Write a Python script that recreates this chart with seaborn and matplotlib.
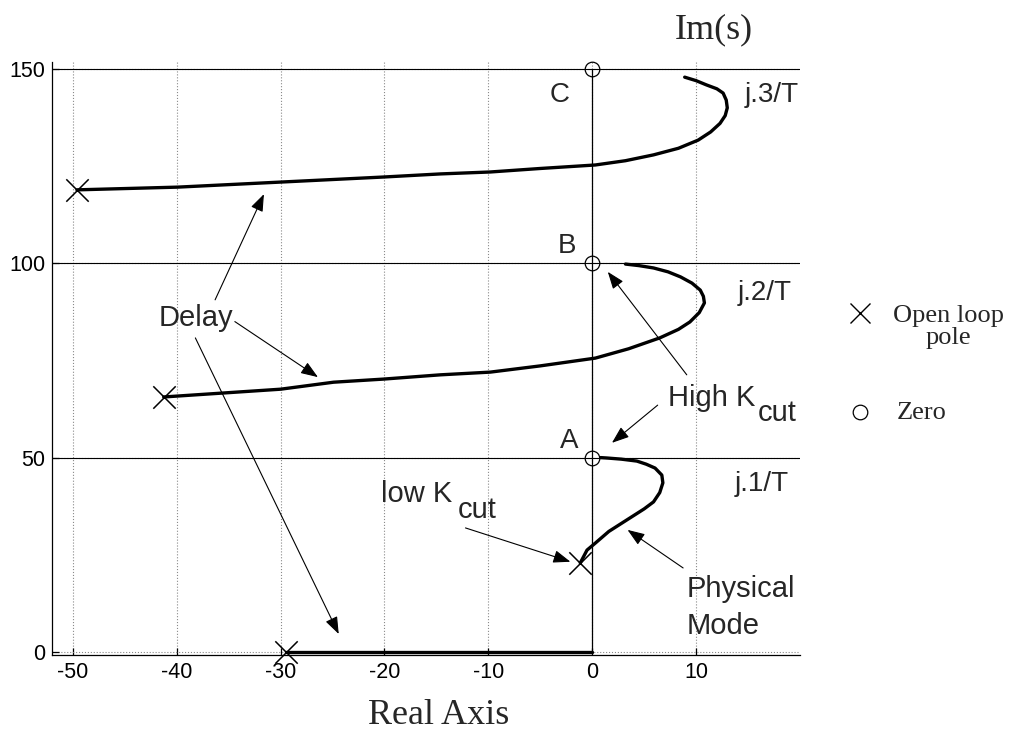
import numpy as np
import pandas as pd
import matplotlib
matplotlib.use("Agg")
import matplotlib.pyplot as plt
import seaborn as sns

# Root-locus branches (real part, imaginary part)
real_axis_x = [-29.5, 0.0]
real_axis_y = [0.0, 0.0]

physical_x = [-1.15, -0.5, 0.3, 1.6, 3.65, 5.0, 5.9, 6.5, 6.8, 6.7, 6.05, 5.2, 4.3, 2.8, 1.4, 0.8]
physical_y = [22.9, 26.2, 28.0, 31.0, 34.5, 36.8, 38.6, 41.0, 43.5, 45.5, 47.3, 48.3, 49.1, 49.6, 49.9, 50.0]

branch2_x = [-41.25, -30.0, -24.9, -20.1, -14.6, -9.8, -5.0, 0.3, 3.5, 6.5, 8.3, 9.4, 10.3, 10.8, 10.7, 10.4, 9.6, 8.5, 7.3, 5.9, 4.5, 3.2]
branch2_y = [65.6, 67.6, 69.4, 70.2, 71.3, 72.0, 73.6, 75.6, 78.0, 80.8, 83.0, 84.9, 87.3, 89.8, 91.5, 93.1, 94.9, 96.5, 97.8, 98.8, 99.4, 99.8]

branch3_x = [-49.6, -39.9, -30.0, -20.1, -14.6, -9.8, -5.0, 0.3, 3.2, 5.9, 8.3, 10.2, 11.4, 12.3, 12.8, 13.0, 12.9, 12.6, 12.0, 11.0, 10.0, 8.9]
branch3_y = [118.9, 119.6, 120.9, 122.2, 123.0, 123.5, 124.4, 125.3, 126.4, 127.9, 129.6, 131.7, 133.8, 136.0, 138.0, 140.0, 142.0, 143.8, 144.9, 145.9, 147.0, 147.9]

# Open-loop poles and zeros
pole_x = [-29.5, -1.15, -41.25, -49.6]
pole_y = [0.0, 22.9, 65.6, 118.9]
zero_x = [0.0, 0.0, 0.0]
zero_y = [50.0, 100.0, 150.0]

x_ticks = [-50, -40, -30, -20, -10, 0, 10]
y_ticks = [0, 50, 100, 150]

sns.set_style("white")
plt.rcParams["font.family"] = ["Liberation Sans", "DejaVu Sans"]

W, H = 1013, 738
fig = plt.figure(figsize=(W / 100, H / 100), dpi=100)
ax = fig.add_axes([52 / W, 1 - 655 / H, (800 - 52) / W, (655 - 62) / H])

ax.set_xlim(-52.0, 20.0)
ax.set_ylim(-0.8, 151.8)
ax.set_xticks(x_ticks)
ax.set_yticks(y_ticks)
ax.set_xticklabels([str(v) for v in x_ticks])
ax.set_yticklabels([str(v) for v in y_ticks])
ax.tick_params(direction="in", length=5, width=0.9, labelsize=15.5, pad=5,
               color="black", labelcolor="black", bottom=True, left=True)
ax.grid(True, linestyle=":", color="#8a8a8a", linewidth=0.8)
ax.set_axisbelow(True)
for side in ["top", "right"]:
    ax.spines[side].set_visible(False)
for side in ["left", "bottom"]:
    ax.spines[side].set_color("black")
    ax.spines[side].set_linewidth(0.9)

# Reference lines at multiples of 1/T and the imaginary axis
for yv in zero_y:
    ax.axhline(yv, color="black", lw=0.8, zorder=2)
ax.plot([0, 0], [0, 150], color="black", lw=0.9, zorder=2)

branches = [
    (real_axis_x, real_axis_y),
    (physical_x, physical_y),
    (branch2_x, branch2_y),
    (branch3_x, branch3_y),
]
for bx, by in branches:
    df = pd.DataFrame({"re": bx, "im": by})
    sns.lineplot(data=df, x="re", y="im", sort=False, estimator=None,
                 color="black", lw=2.4, ax=ax, legend=False, zorder=4)

poles = pd.DataFrame({"re": pole_x, "im": pole_y})
sns.scatterplot(data=poles, x="re", y="im", marker="x", s=260, color="black",
                linewidth=1.1, ax=ax, legend=False, zorder=5, clip_on=False)
ax.plot(zero_x, zero_y, "o", ms=10.5, mfc="none", mec="black", mew=0.9,
        zorder=5, clip_on=False)
ax.set_xlabel("")
ax.set_ylabel("")

# Point labels
for lbl, xx, yy in [("A", -2.2, 52.5), ("B", -2.4, 102.6), ("C", -3.1, 141.5)]:
    ax.text(xx, yy, lbl, fontsize=20, ha="center", va="baseline")
for lbl, xx, yy in [("j.1/T", 13.75, 41.4), ("j.2/T", 14.0, 90.6), ("j.3/T", 14.7, 141.5)]:
    ax.text(xx, yy, lbl, fontsize=20, ha="left", va="baseline")

# Annotations
fs = 21
ax.text(-41.7, 83.9, "Delay", fontsize=fs, ha="left", va="baseline")
ax.text(7.3, 63.3, "High K", fontsize=fs, ha="left", va="baseline")
ax.text(15.9, 59.5, "cut", fontsize=fs, ha="left", va="baseline")
ax.text(-20.3, 38.6, "low K", fontsize=fs, ha="left", va="baseline")
ax.text(-12.9, 34.5, "cut", fontsize=fs, ha="left", va="baseline")
ax.text(9.13, 14.1, "Physical", fontsize=fs, ha="left", va="baseline")
ax.text(9.13, 4.6, "Mode", fontsize=fs, ha="left", va="baseline")

arrow_style = dict(arrowstyle="-|>,head_length=0.75,head_width=0.28",
                   mutation_scale=14, color="black", lw=0.8,
                   shrinkA=0, shrinkB=0)
arrows = [
    ((-31.6, 117.8), (-36.3, 90.6)),
    ((-26.4, 70.7), (-34.4, 85.0)),
    ((-24.4, 4.6), (-38.2, 80.8)),
    ((1.5, 97.8), (9.1, 71.3)),
    ((1.9, 53.8), (6.3, 63.5)),
    ((-2.1, 23.2), (-12.2, 31.9)),
    ((3.4, 31.4), (8.75, 21.6)),
]
for head, tail in arrows:
    ax.annotate("", xy=head, xytext=tail, arrowprops=arrow_style, zorder=6)

# Axis titles
serif = ["Liberation Serif", "DejaVu Serif"]
fig.text(439 / W, 1 - 716 / H, "Real Axis", family=serif, fontsize=26,
         ha="center", va="center")
fig.text(714 / W, 1 - 30 / H, "Im(s)", family=serif, fontsize=26,
         ha="center", va="center")

# Marker key
fig.lines.append(plt.Line2D([860 / W], [1 - 313 / H], marker="x", ms=15,
                            mew=1.0, color="black", linestyle="none",
                            transform=fig.transFigure))
fig.lines.append(plt.Line2D([860 / W], [1 - 412 / H], marker="o", ms=10.5,
                            mew=0.9, mfc="none", mec="black", linestyle="none",
                            transform=fig.transFigure))
fig.text(948 / W, 1 - 327 / H, "Open loop\npole", family=serif, fontsize=19,
         ha="center", va="center", linespacing=1.05)
fig.text(897 / W, 1 - 413 / H, "Zero", family=serif, fontsize=19,
         ha="left", va="center")

fig.savefig("out.png", dpi=100)
